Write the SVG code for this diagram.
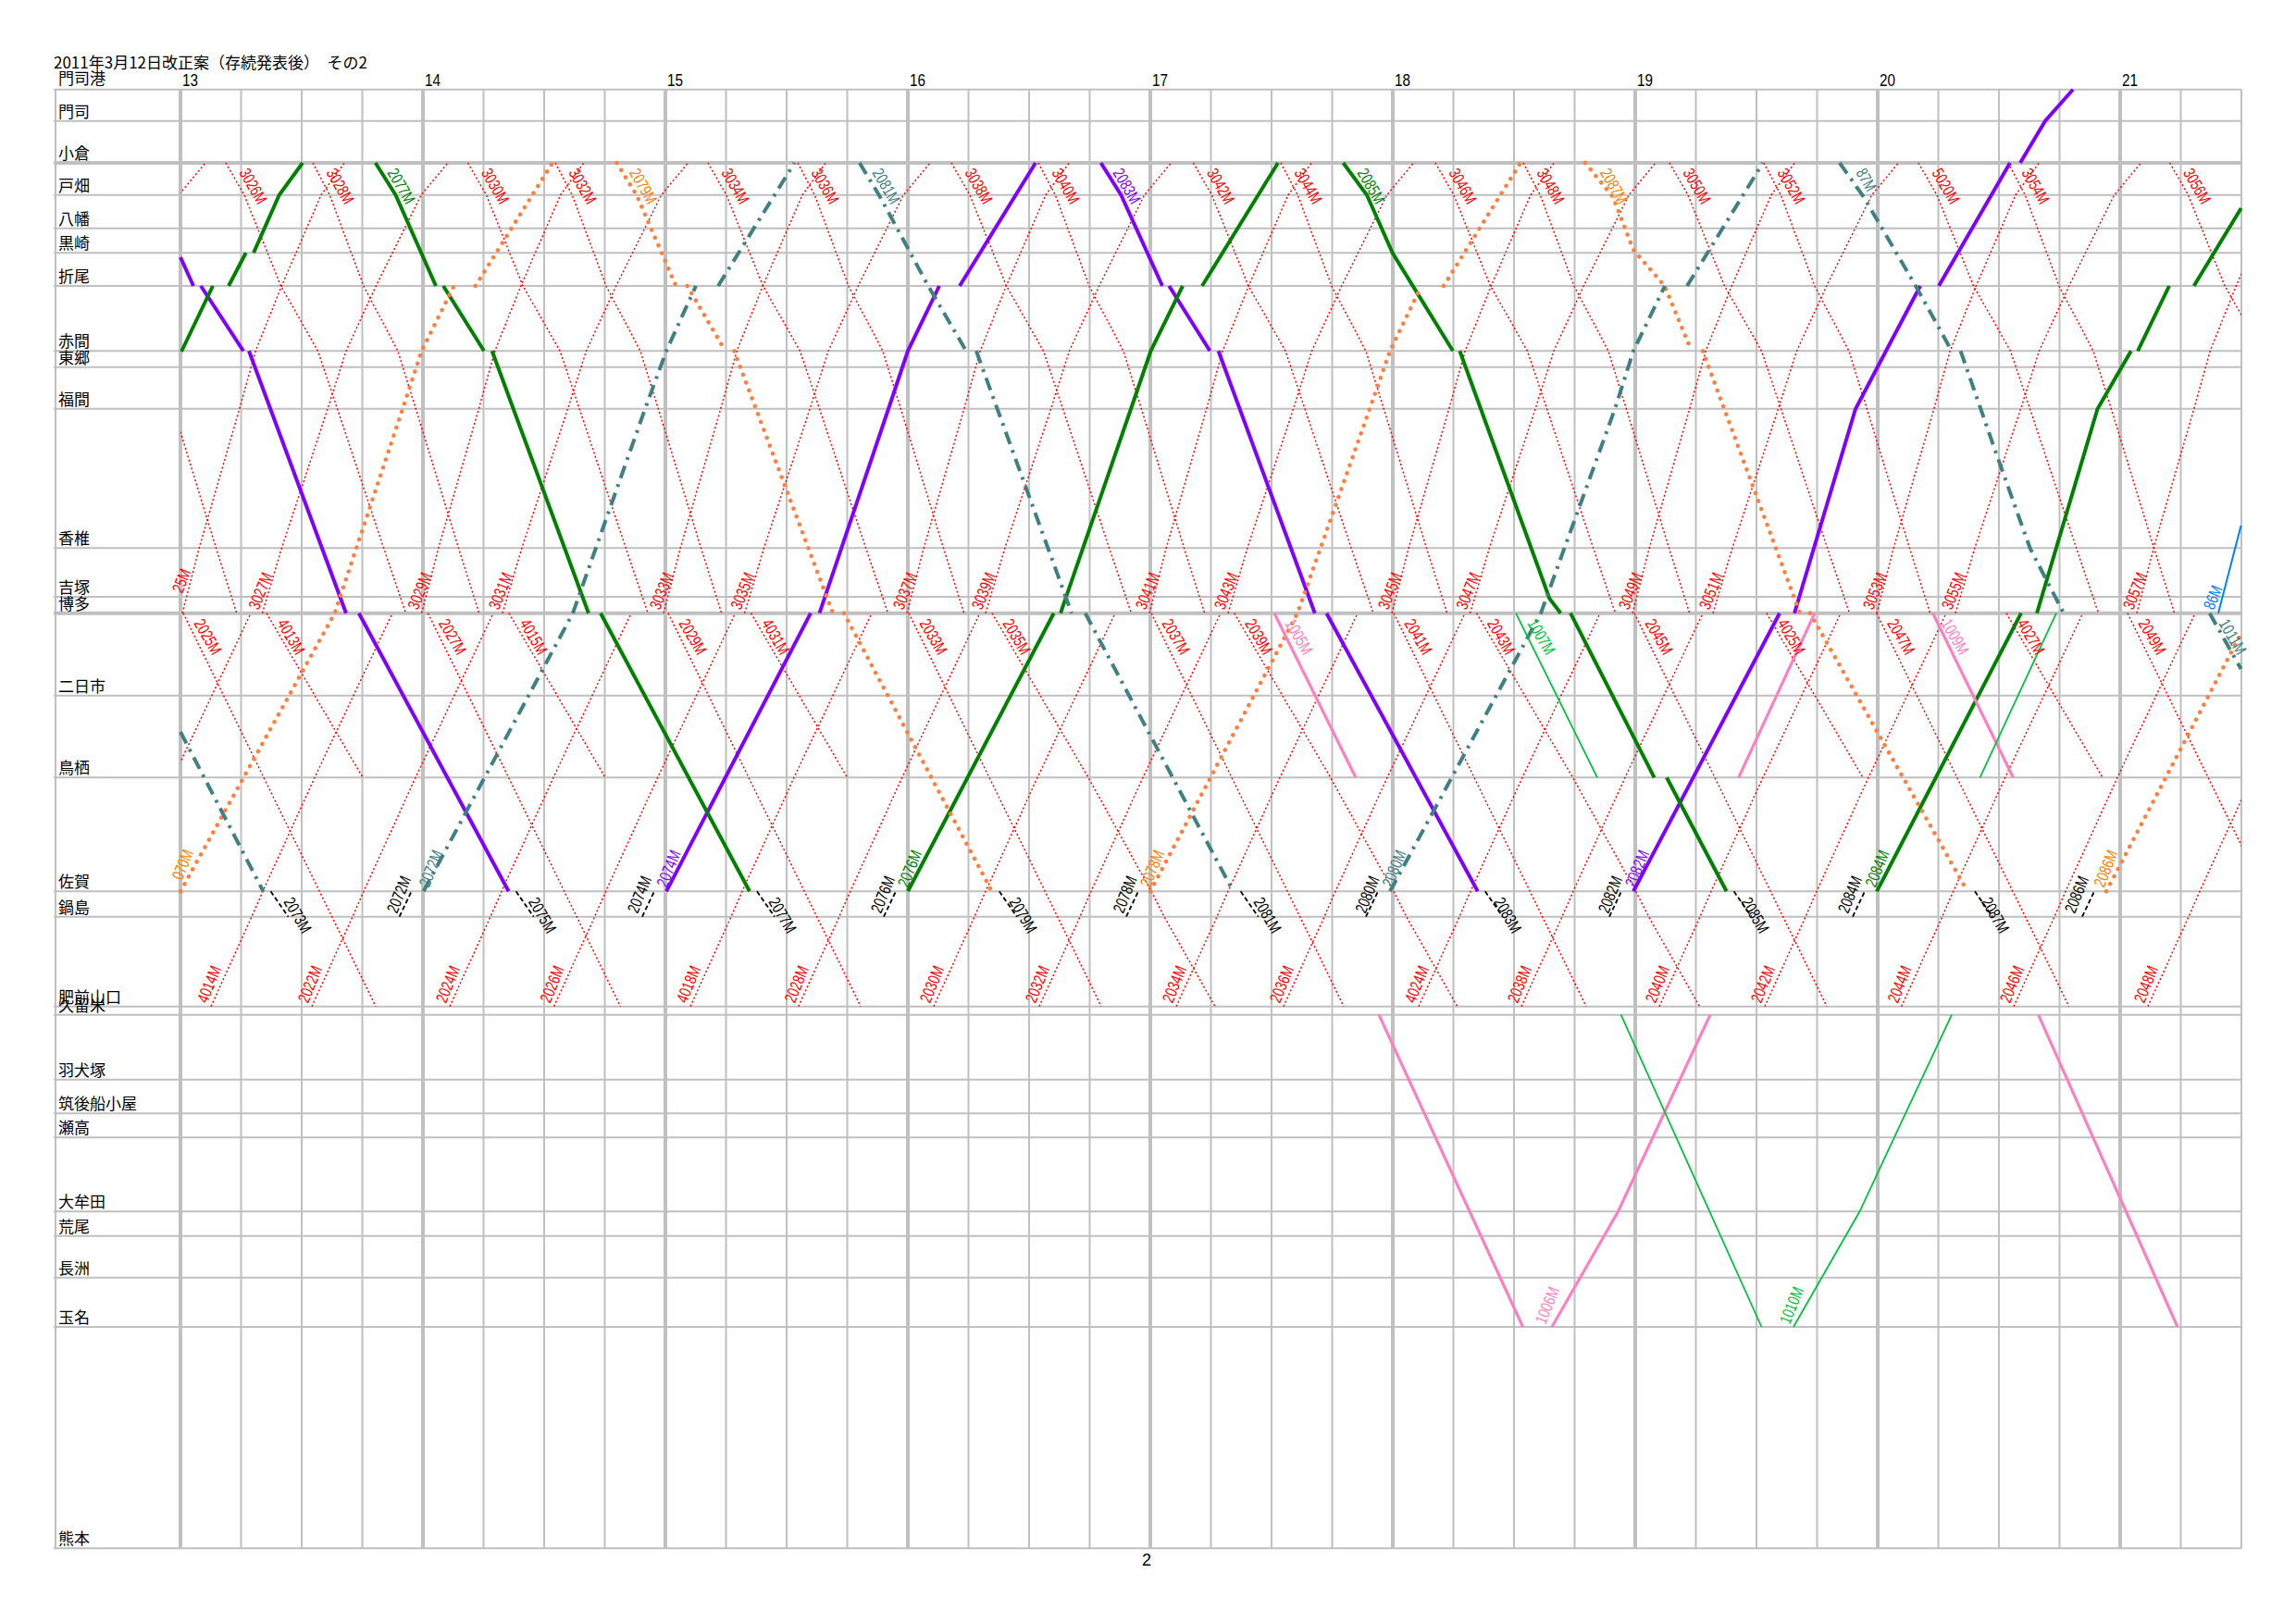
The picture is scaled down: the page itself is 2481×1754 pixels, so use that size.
<svg xmlns="http://www.w3.org/2000/svg" width="2481" height="1754" viewBox="0 0 2481 1754">
<style>
.g{stroke:#c0c0c0;stroke-width:2;fill:none}
.gh{stroke:#c0c0c0;stroke-width:4;fill:none}
.rd{stroke:#ff0000;stroke-width:1.5;stroke-dasharray:2 2.5;fill:none}
.gr{stroke:#008000;stroke-width:4;fill:none}
.pu{stroke:#8000ff;stroke-width:4;fill:none}
.te{stroke:#408080;stroke-width:4;stroke-dasharray:14 7 3 7;fill:none}
.or{stroke:#ff8040;stroke-width:4.5;stroke-dasharray:0.1 9;stroke-linecap:round;fill:none}
.pk{stroke:#ff80c0;stroke-width:3.2;fill:none}
.lg{stroke:#00c040;stroke-width:1.8;fill:none}
.bl{stroke:#0080ff;stroke-width:2;fill:none}
.bk{stroke:#000;stroke-width:1.8;stroke-dasharray:5 3;fill:none}
.st{font-family:'Noto Sans CJK JP','Noto Sans CJK SC',sans-serif;font-size:17px;fill:#000}
.hr{font-family:'Liberation Sans',Arial,sans-serif;font-size:18px;fill:#000}
.t{font-family:'Liberation Sans',Arial,sans-serif;font-size:18px}
.cr{fill:#ff0000}.cg{fill:#008000}.co{fill:#ff8000}.ct{fill:#408080}.cp{fill:#8000ff}.ck{fill:#000}.cpk{fill:#ff80c0}.clg{fill:#00c040}.cb{fill:#0080ff}
</style>
<defs>
<clipPath id="chart"><rect x="195" y="96" width="2227" height="1578"/></clipPath>
</defs>
<rect x="0" y="0" width="2481" height="1754" fill="#fff"/>
<g id="grid">
<path class="g" d="M260.5,96.7V1673.3M326,96.7V1673.3M391.5,96.7V1673.3M522.5,96.7V1673.3M588,96.7V1673.3M653.5,96.7V1673.3M784.5,96.7V1673.3M850,96.7V1673.3M915.5,96.7V1673.3M1046.5,96.7V1673.3M1112,96.7V1673.3M1177.5,96.7V1673.3M1308.5,96.7V1673.3M1374,96.7V1673.3M1439.5,96.7V1673.3M1570.5,96.7V1673.3M1636,96.7V1673.3M1701.5,96.7V1673.3M1832.5,96.7V1673.3M1898,96.7V1673.3M1963.5,96.7V1673.3M2094.5,96.7V1673.3M2160,96.7V1673.3M2225.5,96.7V1673.3M2356.5,96.7V1673.3M2422,96.7V1673.3"/>
<path class="gh" d="M195,96.7V1673.3M457,96.7V1673.3M719,96.7V1673.3M981,96.7V1673.3M1243,96.7V1673.3M1505,96.7V1673.3M1767,96.7V1673.3M2029,96.7V1673.3M2291,96.7V1673.3"/>
<path class="g" stroke-width="3" d="M60,96.7V1673.3"/>
<path class="g" d="M58,96.7H2422M58,130.7H2422M58,210.7H2422M58,246.7H2422M58,273.3H2422M58,309H2422M58,379.3H2422M58,396.7H2422M58,441.7H2422M58,592.3H2422M58,645H2422M58,751.7H2422M58,840.3H2422M58,963.3H2422M58,990.7H2422M58,1087.7H2422M58,1096.7H2422M58,1166.7H2422M58,1203.3H2422M58,1229.3H2422M58,1309.3H2422M58,1335.7H2422M58,1380.7H2422M58,1434H2422M58,1673.3H2422"/>
<path class="gh" d="M58,176H2422M58,662.7H2422"/>
</g>
<g id="title">
<text class="st" x="58" y="74" font-size="17.5">2011年3月12日改正案（存続発表後）　その2</text>
<text class="hr" x="197" y="93" textLength="17" lengthAdjust="spacingAndGlyphs">13</text>
<text class="hr" x="459" y="93" textLength="17" lengthAdjust="spacingAndGlyphs">14</text>
<text class="hr" x="721" y="93" textLength="17" lengthAdjust="spacingAndGlyphs">15</text>
<text class="hr" x="983" y="93" textLength="17" lengthAdjust="spacingAndGlyphs">16</text>
<text class="hr" x="1245" y="93" textLength="17" lengthAdjust="spacingAndGlyphs">17</text>
<text class="hr" x="1507" y="93" textLength="17" lengthAdjust="spacingAndGlyphs">18</text>
<text class="hr" x="1769" y="93" textLength="17" lengthAdjust="spacingAndGlyphs">19</text>
<text class="hr" x="2031" y="93" textLength="17" lengthAdjust="spacingAndGlyphs">20</text>
<text class="hr" x="2293" y="93" textLength="17" lengthAdjust="spacingAndGlyphs">21</text>
<text class="hr" x="1239" y="1692" text-anchor="middle" font-size="16">2</text>
</g>
<g id="stations">
<text class="st" x="63" y="91">門司港</text>
<text class="st" x="63" y="127">門司</text>
<text class="st" x="63" y="172">小倉</text>
<text class="st" x="63" y="207">戸畑</text>
<text class="st" x="63" y="243">八幡</text>
<text class="st" x="63" y="269">黒崎</text>
<text class="st" x="63" y="305">折尾</text>
<text class="st" x="63" y="375">赤間</text>
<text class="st" x="63" y="393">東郷</text>
<text class="st" x="63" y="438">福間</text>
<text class="st" x="63" y="588">香椎</text>
<text class="st" x="63" y="641">吉塚</text>
<text class="st" x="63" y="659">博多</text>
<text class="st" x="63" y="748">二日市</text>
<text class="st" x="63" y="836">鳥栖</text>
<text class="st" x="63" y="959">佐賀</text>
<text class="st" x="63" y="987">鍋島</text>
<text class="st" x="63" y="1084">肥前山口</text>
<text class="st" x="63" y="1093">久留米</text>
<text class="st" x="63" y="1163">羽犬塚</text>
<text class="st" x="63" y="1199">筑後船小屋</text>
<text class="st" x="63" y="1225">瀬高</text>
<text class="st" x="63" y="1305">大牟田</text>
<text class="st" x="63" y="1332">荒尾</text>
<text class="st" x="63" y="1377">長洲</text>
<text class="st" x="63" y="1430">玉名</text>
<text class="st" x="63" y="1669">熊本</text>
</g>
<g id="locals" clip-path="url(#chart)">
<path class="rd" d="M76,176L94.3,210.7L130.9,309L167.9,379.3L187.3,441.7L233.5,592.3L255.7,662.7M244,176L263.9,210.7L303.5,309L343.5,379.3L364.5,441.7L414.6,592.3L438.5,662.7M338,176L356.3,210.7L392.9,309L429.9,379.3L449.3,441.7L495.5,592.3L517.7,662.7M505.6,176L525.5,210.7L565.1,309L605.1,379.3L626.1,441.7L676.2,592.3L700.1,662.7M600,176L618.3,210.7L654.9,309L691.9,379.3L711.3,441.7L757.5,592.3L779.7,662.7M765,176L784.9,210.7L824.5,309L864.5,379.3L885.5,441.7L935.6,592.3L959.5,662.7M862,176L880.3,210.7L916.9,309L953.9,379.3L973.3,441.7L1019.5,592.3L1041.7,662.7M1028,176L1047.9,210.7L1087.5,309L1127.5,379.3L1148.5,441.7L1198.6,592.3L1222.5,662.7M1122,176L1140.3,210.7L1176.9,309L1213.9,379.3L1233.3,441.7L1279.5,592.3L1301.7,662.7M1289.5,176L1309.4,210.7L1349,309L1389,379.3L1410,441.7L1460.1,592.3L1484,662.7M1384,176L1402.3,210.7L1438.9,309L1475.9,379.3L1495.3,441.7L1541.5,592.3L1563.7,662.7M1551,176L1570.9,210.7L1610.5,309L1650.5,379.3L1671.5,441.7L1721.6,592.3L1745.5,662.7M1646,176L1664.3,210.7L1700.9,309L1737.9,379.3L1757.3,441.7L1803.5,592.3L1825.7,662.7M1804,176L1823.9,210.7L1863.5,309L1903.5,379.3L1924.5,441.7L1974.6,592.3L1998.5,662.7M1906,176L1924.3,210.7L1960.9,309L1997.9,379.3L2017.3,441.7L2063.5,592.3L2085.7,662.7M2073,176L2092.9,210.7L2132.5,309L2172.5,379.3L2193.5,441.7L2243.6,592.3L2267.5,662.7M2170,176L2188.3,210.7L2224.9,309L2261.9,379.3L2281.3,441.7L2327.5,592.3L2349.7,662.7M2344.6,176L2364.5,210.7L2404.1,309L2444.1,379.3"/>
<path class="rd" d="M21.5,662.7L42.4,592.3L92.1,441.7L112,379.3L144.3,309L193.1,210.7L222,176M197,662.7L215.2,592.3L258.8,441.7L276.2,379.3L304.3,309L347,210.7L372.3,176M283.5,662.7L304.4,592.3L354.1,441.7L374,379.3L406.3,309L455.1,210.7L484,176M455.6,662.7L473.8,592.3L517.4,441.7L534.8,379.3L562.9,309L605.6,210.7L630.9,176M543,662.7L563.9,592.3L613.6,441.7L633.5,379.3L665.8,309L714.6,210.7L743.5,176M717,662.7L735.2,592.3L778.8,441.7L796.2,379.3L824.3,309L867,210.7L892.3,176M804.6,662.7L825.5,592.3L875.2,441.7L895.1,379.3L927.4,309L976.2,210.7L1005.1,176M980,662.7L998.2,592.3L1041.8,441.7L1059.2,379.3L1087.3,309L1130,210.7L1155.3,176M1065,662.7L1085.9,592.3L1135.6,441.7L1155.5,379.3L1187.8,309L1236.6,210.7L1265.5,176M1242,662.7L1260.2,592.3L1303.8,441.7L1321.2,379.3L1349.3,309L1392,210.7L1417.3,176M1327,662.7L1347.9,592.3L1397.6,441.7L1417.5,379.3L1449.8,309L1498.6,210.7L1527.5,176M1504,662.7L1522.2,592.3L1565.8,441.7L1583.2,379.3L1611.3,309L1654,210.7L1679.3,176M1588.5,662.7L1609.4,592.3L1659.1,441.7L1679,379.3L1711.3,309L1760.1,210.7L1789,176M1764,662.7L1782.2,592.3L1825.8,441.7L1843.2,379.3L1871.3,309L1914,210.7L1939.3,176M1851,662.7L1871.9,592.3L1921.6,441.7L1941.5,379.3L1973.8,309L2022.6,210.7L2051.5,176M2028,662.7L2046.2,592.3L2089.8,441.7L2107.2,379.3L2135.3,309L2178,210.7L2203.3,176M2113,662.7L2133.9,592.3L2183.6,441.7L2203.5,379.3L2235.8,309L2284.6,210.7L2313.5,176M2309,662.7L2327.2,592.3L2370.8,441.7L2388.2,379.3L2416.3,309L2459,210.7"/>
<path class="rd" d="M198,662.7L285,840.3L345.3,963.3L358.7,990.7L406,1087.7M288,662.7L392,840.3M462.5,662.7L549.5,840.3L609.8,963.3L623.2,990.7L670.5,1087.7M550,662.7L654,840.3M722,662.7L809,840.3L869.3,963.3L882.7,990.7L930,1087.7M811.5,662.7L915.5,840.3M982,662.7L1069,840.3L1129.3,963.3L1142.7,990.7L1190,1087.7M1072,662.7L1176,840.3L1244,963.3L1258,990.7L1313,1087.7M1244,662.7L1331,840.3L1391.3,963.3L1404.7,990.7L1452,1087.7M1333.7,662.7L1437.7,840.3L1505.7,963.3L1519.7,990.7L1574.7,1087.7M1506,662.7L1593,840.3L1653.3,963.3L1666.7,990.7L1714,1087.7M1595.5,662.7L1699.5,840.3L1767.5,963.3L1781.5,990.7L1836.5,1087.7M1766,662.7L1853,840.3L1913.3,963.3L1926.7,990.7L1974,1087.7M1909,662.7L2013,840.3M2027.7,662.7L2114.7,840.3L2175,963.3L2188.4,990.7L2235.7,1087.7M2168,662.7L2272,840.3M2299,662.7L2386,840.3L2446.3,963.3"/>
<path class="rd" d="M75,1087.7L119,990.7L131,963.3L187,840.3L271,662.7M228,1087.7L272,990.7L284,963.3L340,840.3L424,662.7M337,1087.7L381,990.7L393,963.3L449,840.3L533,662.7M486,1087.7L530,990.7L542,963.3L598,840.3L682,662.7M598.6,1087.7L642.6,990.7L654.6,963.3L710.6,840.3L794.6,662.7M746,1087.7L790,990.7L802,963.3L858,840.3L942,662.7M862.8,1087.7L906.8,990.7L918.8,963.3L974.8,840.3L1058.8,662.7M1009,1087.7L1053,990.7L1065,963.3L1121,840.3L1205,662.7M1123,1087.7L1167,990.7L1179,963.3L1235,840.3L1319,662.7M1271,1087.7L1315,990.7L1327,963.3L1383,840.3L1467,662.7M1387,1087.7L1431,990.7L1443,963.3L1499,840.3L1583,662.7M1533,1087.7L1577,990.7L1589,963.3L1645,840.3L1729,662.7M1644,1087.7L1688,990.7L1700,963.3L1756,840.3L1840,662.7M1793,1087.7L1837,990.7L1849,963.3L1905,840.3L1989,662.7M1907,1087.7L1951,990.7L1963,963.3L2019,840.3L2103,662.7M2054.7,1087.7L2098.7,990.7L2110.7,963.3L2166.7,840.3L2250.7,662.7M2176,1087.7L2220,990.7L2232,963.3L2288,840.3L2372,662.7M2321,1087.7L2365,990.7L2377,963.3L2433,840.3"/>
</g>
<g id="connectors">
<path class="pu" d="M195,278L209,309M217,309L263,379.3M269,379.3L374,662.7M387.8,662.7L549.6,963.3"/>
<path class="pu" d="M720,963.3L876,662.7M885.5,662.7L960,442L981,379.3L1015,309M1037,309L1119,176"/>
<path class="pu" d="M1189.6,176L1211.4,210.7L1256,309M1263.3,309L1307.4,379.3M1316.6,379.3L1420.8,662.7M1433.4,662.7L1596.8,963.3"/>
<path class="pu" d="M1765,963.3L1923,662.7M1939,662.7L2005,442L2038,379.3L2075,309M2095,309L2172,176M2183,176L2210,130.7L2240,96.7"/>
<path class="gr" d="M196,380L230,309M247,309L265.7,273.3M274,273.3L301.7,210.7L327,176"/>
<path class="gr" d="M405.7,176L427.5,210.7L471,309M479,309L523,379.3M531.7,379.3L636,662.7M649,662.7L810,963.3"/>
<path class="gr" d="M981,963.3L1138.7,662.7M1146,662.7L1222,442L1243.5,379.3L1278,309M1299,309L1381,176"/>
<path class="gr" d="M1451.4,176L1477,210.7L1504.7,273.3L1570,379.3M1577.4,379.3L1674.3,646.7L1686.4,662.7M1697,662.7L1787.6,840.3M1801,840.3L1865.6,963.3"/>
<path class="gr" d="M2028,963.3L2184,662.7M2201,662.7L2266.5,442L2302.8,379.3M2310,379.3L2344,309M2370.7,309L2421.7,225"/>
<path class="or" d="M195,963.3L361.7,662.7L435,442L455.6,379.3L490.5,309M513.8,309L597,176"/>
<path class="or" d="M666.5,176L688,211L730.4,309M742.6,309L783.8,379.3M793.4,379.3L900,662.7M912,662.7L1071.8,963.3"/>
<path class="or" d="M1243,963.3L1402,662.7L1480,442L1502,379.3L1536,309M1560,309L1643,176"/>
<path class="or" d="M1713,176L1743,213L1765,270L1798.7,309L1827.8,379.3M1840,379.3L1945,662.7M1956,662.7L2126,963.3"/>
<path class="or" d="M2276,963.3L2422,684"/>
<path class="te" d="M195,791L284.5,963.3"/>
<path class="te" d="M457.6,963.3L619,662.7L697,442L720,379.3L752,309M776,309L858.5,176"/>
<path class="te" d="M928.8,176L950,211L1003,309L1044,379.3M1054.9,379.3L1158,662.7M1172.7,662.7L1332.6,963.3"/>
<path class="te" d="M1502,963.3L1665,662.7L1745,442L1765,379.3L1799,309M1823,309L1905,176"/>
<path class="te" d="M1987.8,176L2014,213L2070,309L2109,379.3M2118.6,379.3L2157,490L2193.8,593L2230,662.7"/>
<path class="te" d="M2387.7,662.7L2421.6,723"/>
<path class="bk" d="M431.6,990.7L444.6,963.3M694,990.7L707,963.3M955,990.7L968,963.3M1217,990.7L1230,963.3M1476,990.7L1489,963.3M1739,990.7L1752,963.3M2002,990.7L2015,963.3M2250,990.7L2263,963.3"/>
<path class="bk" d="M292.5,963.3L311.5,990.7M557.6,963.3L576.6,990.7M818,963.3L837,990.7M1079.8,963.3L1098.8,990.7M1340.6,963.3L1359.6,990.7M1604.8,963.3L1623.8,990.7M1873.6,963.3L1892.6,990.7M2134,963.3L2153,990.7"/>
<path class="pk" d="M1377,662.7L1465,840.3M1490,1096.7L1645.6,1434M1677,1434L1748.5,1309.3L1848,1096.7M1878.7,840.3L1961,662.7M2088.6,662.7L2175.4,840.3M2202.6,1096.7L2353,1434"/>
<path class="lg" d="M1638,662.7L1726,840.3M1751.6,1096.7L1903.5,1434M1938,1434L2009.5,1309.3L2109,1096.7M2139.5,840.3L2222,662.7"/>
<path class="bl" d="M2397,662.7L2421.6,568"/>
</g>
<g id="labels">
<text class="t cr" transform="translate(258,186.5) rotate(60)" textLength="41" lengthAdjust="spacingAndGlyphs">3026M</text>
<text class="t cr" transform="translate(352,186.5) rotate(60)" textLength="41" lengthAdjust="spacingAndGlyphs">3028M</text>
<text class="t cg" transform="translate(418,186.5) rotate(60)" textLength="41" lengthAdjust="spacingAndGlyphs">2077M</text>
<text class="t cr" transform="translate(519.6,186.5) rotate(60)" textLength="41" lengthAdjust="spacingAndGlyphs">3030M</text>
<text class="t cr" transform="translate(614,186.5) rotate(60)" textLength="41" lengthAdjust="spacingAndGlyphs">3032M</text>
<text class="t co" transform="translate(679.5,186.5) rotate(60)" textLength="41" lengthAdjust="spacingAndGlyphs">2079M</text>
<text class="t cr" transform="translate(779,186.5) rotate(60)" textLength="41" lengthAdjust="spacingAndGlyphs">3034M</text>
<text class="t cr" transform="translate(876,186.5) rotate(60)" textLength="41" lengthAdjust="spacingAndGlyphs">3036M</text>
<text class="t ct" transform="translate(942,186.5) rotate(60)" textLength="41" lengthAdjust="spacingAndGlyphs">2081M</text>
<text class="t cr" transform="translate(1042,186.5) rotate(60)" textLength="41" lengthAdjust="spacingAndGlyphs">3038M</text>
<text class="t cr" transform="translate(1136,186.5) rotate(60)" textLength="41" lengthAdjust="spacingAndGlyphs">3040M</text>
<text class="t cp" transform="translate(1202,186.5) rotate(60)" textLength="41" lengthAdjust="spacingAndGlyphs">2083M</text>
<text class="t cr" transform="translate(1303.5,186.5) rotate(60)" textLength="41" lengthAdjust="spacingAndGlyphs">3042M</text>
<text class="t cr" transform="translate(1398,186.5) rotate(60)" textLength="41" lengthAdjust="spacingAndGlyphs">3044M</text>
<text class="t cg" transform="translate(1466,186.5) rotate(60)" textLength="41" lengthAdjust="spacingAndGlyphs">2085M</text>
<text class="t cr" transform="translate(1565,186.5) rotate(60)" textLength="41" lengthAdjust="spacingAndGlyphs">3046M</text>
<text class="t cr" transform="translate(1660,186.5) rotate(60)" textLength="41" lengthAdjust="spacingAndGlyphs">3048M</text>
<text class="t co" transform="translate(1728.5,186.5) rotate(60)" textLength="41" lengthAdjust="spacingAndGlyphs">2087M</text>
<text class="t cr" transform="translate(1818,186.5) rotate(60)" textLength="41" lengthAdjust="spacingAndGlyphs">3050M</text>
<text class="t cr" transform="translate(1920,186.5) rotate(60)" textLength="41" lengthAdjust="spacingAndGlyphs">3052M</text>
<text class="t ct" transform="translate(2005,186.5) rotate(60)" textLength="25" lengthAdjust="spacingAndGlyphs">87M</text>
<text class="t cr" transform="translate(2087,186.5) rotate(60)" textLength="41" lengthAdjust="spacingAndGlyphs">5020M</text>
<text class="t cr" transform="translate(2184,186.5) rotate(60)" textLength="41" lengthAdjust="spacingAndGlyphs">3054M</text>
<text class="t cr" transform="translate(2358.6,186.5) rotate(60)" textLength="41" lengthAdjust="spacingAndGlyphs">3056M</text>
<text class="t cr" transform="translate(197,642) rotate(-68)" textLength="26" lengthAdjust="spacingAndGlyphs">25M</text>
<text class="t cr" transform="translate(279.5,660) rotate(-68)" textLength="41" lengthAdjust="spacingAndGlyphs">3027M</text>
<text class="t cr" transform="translate(451.6,660) rotate(-68)" textLength="41" lengthAdjust="spacingAndGlyphs">3029M</text>
<text class="t cr" transform="translate(539,660) rotate(-68)" textLength="41" lengthAdjust="spacingAndGlyphs">3031M</text>
<text class="t cr" transform="translate(713,660) rotate(-68)" textLength="41" lengthAdjust="spacingAndGlyphs">3033M</text>
<text class="t cr" transform="translate(800.6,660) rotate(-68)" textLength="41" lengthAdjust="spacingAndGlyphs">3035M</text>
<text class="t cr" transform="translate(976,660) rotate(-68)" textLength="41" lengthAdjust="spacingAndGlyphs">3037M</text>
<text class="t cr" transform="translate(1061,660) rotate(-68)" textLength="41" lengthAdjust="spacingAndGlyphs">3039M</text>
<text class="t cr" transform="translate(1238,660) rotate(-68)" textLength="41" lengthAdjust="spacingAndGlyphs">3041M</text>
<text class="t cr" transform="translate(1323,660) rotate(-68)" textLength="41" lengthAdjust="spacingAndGlyphs">3043M</text>
<text class="t cr" transform="translate(1500,660) rotate(-68)" textLength="41" lengthAdjust="spacingAndGlyphs">3045M</text>
<text class="t cr" transform="translate(1584.5,660) rotate(-68)" textLength="41" lengthAdjust="spacingAndGlyphs">3047M</text>
<text class="t cr" transform="translate(1760,660) rotate(-68)" textLength="41" lengthAdjust="spacingAndGlyphs">3049M</text>
<text class="t cr" transform="translate(1847,660) rotate(-68)" textLength="41" lengthAdjust="spacingAndGlyphs">3051M</text>
<text class="t cr" transform="translate(2024,660) rotate(-68)" textLength="41" lengthAdjust="spacingAndGlyphs">3053M</text>
<text class="t cr" transform="translate(2109,660) rotate(-68)" textLength="41" lengthAdjust="spacingAndGlyphs">3055M</text>
<text class="t cr" transform="translate(2305,660) rotate(-68)" textLength="41" lengthAdjust="spacingAndGlyphs">3057M</text>
<text class="t cb" transform="translate(2392,660) rotate(-68)" textLength="26" lengthAdjust="spacingAndGlyphs">86M</text>
<text class="t cr" transform="translate(209,673.5) rotate(60)" textLength="41" lengthAdjust="spacingAndGlyphs">2025M</text>
<text class="t cr" transform="translate(299,673.5) rotate(60)" textLength="41" lengthAdjust="spacingAndGlyphs">4013M</text>
<text class="t cr" transform="translate(473.5,673.5) rotate(60)" textLength="41" lengthAdjust="spacingAndGlyphs">2027M</text>
<text class="t cr" transform="translate(561,673.5) rotate(60)" textLength="41" lengthAdjust="spacingAndGlyphs">4015M</text>
<text class="t cr" transform="translate(733,673.5) rotate(60)" textLength="41" lengthAdjust="spacingAndGlyphs">2029M</text>
<text class="t cr" transform="translate(822.5,673.5) rotate(60)" textLength="41" lengthAdjust="spacingAndGlyphs">4031M</text>
<text class="t cr" transform="translate(993,673.5) rotate(60)" textLength="41" lengthAdjust="spacingAndGlyphs">2033M</text>
<text class="t cr" transform="translate(1083,673.5) rotate(60)" textLength="41" lengthAdjust="spacingAndGlyphs">2035M</text>
<text class="t cr" transform="translate(1255,673.5) rotate(60)" textLength="41" lengthAdjust="spacingAndGlyphs">2037M</text>
<text class="t cr" transform="translate(1344.7,673.5) rotate(60)" textLength="41" lengthAdjust="spacingAndGlyphs">2039M</text>
<text class="t cpk" transform="translate(1388,673.5) rotate(60)" textLength="41" lengthAdjust="spacingAndGlyphs">1005M</text>
<text class="t cr" transform="translate(1517,673.5) rotate(60)" textLength="41" lengthAdjust="spacingAndGlyphs">2041M</text>
<text class="t cr" transform="translate(1606.5,673.5) rotate(60)" textLength="41" lengthAdjust="spacingAndGlyphs">2043M</text>
<text class="t clg" transform="translate(1650,673.5) rotate(60)" textLength="41" lengthAdjust="spacingAndGlyphs">1007M</text>
<text class="t cr" transform="translate(1777,673.5) rotate(60)" textLength="41" lengthAdjust="spacingAndGlyphs">2045M</text>
<text class="t cr" transform="translate(1920,673.5) rotate(60)" textLength="41" lengthAdjust="spacingAndGlyphs">4025M</text>
<text class="t cr" transform="translate(2038.7,673.5) rotate(60)" textLength="41" lengthAdjust="spacingAndGlyphs">2047M</text>
<text class="t cpk" transform="translate(2097,673.5) rotate(60)" textLength="41" lengthAdjust="spacingAndGlyphs">1009M</text>
<text class="t cr" transform="translate(2179,673.5) rotate(60)" textLength="41" lengthAdjust="spacingAndGlyphs">4027M</text>
<text class="t cr" transform="translate(2310,673.5) rotate(60)" textLength="41" lengthAdjust="spacingAndGlyphs">2049M</text>
<text class="t ct" transform="translate(2397,673.5) rotate(60)" textLength="41" lengthAdjust="spacingAndGlyphs">1011M</text>
<text class="t co" transform="translate(197,952) rotate(-68)" textLength="33" lengthAdjust="spacingAndGlyphs">070M</text>
<text class="t ct" transform="translate(463.7,960) rotate(-68)" textLength="41" lengthAdjust="spacingAndGlyphs">2072M</text>
<text class="t cp" transform="translate(720.6,960) rotate(-68)" textLength="41" lengthAdjust="spacingAndGlyphs">2074M</text>
<text class="t cg" transform="translate(981,960) rotate(-68)" textLength="41" lengthAdjust="spacingAndGlyphs">2076M</text>
<text class="t co" transform="translate(1243,960) rotate(-68)" textLength="41" lengthAdjust="spacingAndGlyphs">2078M</text>
<text class="t ct" transform="translate(1504.5,960) rotate(-68)" textLength="41" lengthAdjust="spacingAndGlyphs">2080M</text>
<text class="t cp" transform="translate(1767,960) rotate(-68)" textLength="41" lengthAdjust="spacingAndGlyphs">2082M</text>
<text class="t cg" transform="translate(2026.5,960) rotate(-68)" textLength="41" lengthAdjust="spacingAndGlyphs">2084M</text>
<text class="t co" transform="translate(2273.6,960) rotate(-68)" textLength="41" lengthAdjust="spacingAndGlyphs">2086M</text>
<text class="t ck" transform="translate(429,988) rotate(-68)" textLength="41" lengthAdjust="spacingAndGlyphs">2072M</text>
<text class="t ck" transform="translate(689,988) rotate(-68)" textLength="41" lengthAdjust="spacingAndGlyphs">2074M</text>
<text class="t ck" transform="translate(952,988) rotate(-68)" textLength="41" lengthAdjust="spacingAndGlyphs">2076M</text>
<text class="t ck" transform="translate(1213.7,988) rotate(-68)" textLength="41" lengthAdjust="spacingAndGlyphs">2078M</text>
<text class="t ck" transform="translate(1475.5,988) rotate(-68)" textLength="41" lengthAdjust="spacingAndGlyphs">2080M</text>
<text class="t ck" transform="translate(1738,988) rotate(-68)" textLength="41" lengthAdjust="spacingAndGlyphs">2082M</text>
<text class="t ck" transform="translate(1997,988) rotate(-68)" textLength="41" lengthAdjust="spacingAndGlyphs">2084M</text>
<text class="t ck" transform="translate(2242,988) rotate(-68)" textLength="41" lengthAdjust="spacingAndGlyphs">2086M</text>
<text class="t ck" transform="translate(306,974.5) rotate(60)" textLength="41" lengthAdjust="spacingAndGlyphs">2073M</text>
<text class="t ck" transform="translate(570.5,974.5) rotate(60)" textLength="41" lengthAdjust="spacingAndGlyphs">2075M</text>
<text class="t ck" transform="translate(830,974.5) rotate(60)" textLength="41" lengthAdjust="spacingAndGlyphs">2077M</text>
<text class="t ck" transform="translate(1090,974.5) rotate(60)" textLength="41" lengthAdjust="spacingAndGlyphs">2079M</text>
<text class="t ck" transform="translate(1354,974.5) rotate(60)" textLength="41" lengthAdjust="spacingAndGlyphs">2081M</text>
<text class="t ck" transform="translate(1613.7,974.5) rotate(60)" textLength="41" lengthAdjust="spacingAndGlyphs">2083M</text>
<text class="t ck" transform="translate(1881,974.5) rotate(60)" textLength="41" lengthAdjust="spacingAndGlyphs">2085M</text>
<text class="t ck" transform="translate(2140.5,974.5) rotate(60)" textLength="41" lengthAdjust="spacingAndGlyphs">2087M</text>
<text class="t cr" transform="translate(224,1085) rotate(-68)" textLength="41" lengthAdjust="spacingAndGlyphs">4014M</text>
<text class="t cr" transform="translate(333,1085) rotate(-68)" textLength="41" lengthAdjust="spacingAndGlyphs">2022M</text>
<text class="t cr" transform="translate(482,1085) rotate(-68)" textLength="41" lengthAdjust="spacingAndGlyphs">2024M</text>
<text class="t cr" transform="translate(594.6,1085) rotate(-68)" textLength="41" lengthAdjust="spacingAndGlyphs">2026M</text>
<text class="t cr" transform="translate(742,1085) rotate(-68)" textLength="41" lengthAdjust="spacingAndGlyphs">4018M</text>
<text class="t cr" transform="translate(858.8,1085) rotate(-68)" textLength="41" lengthAdjust="spacingAndGlyphs">2028M</text>
<text class="t cr" transform="translate(1005,1085) rotate(-68)" textLength="41" lengthAdjust="spacingAndGlyphs">2030M</text>
<text class="t cr" transform="translate(1119,1085) rotate(-68)" textLength="41" lengthAdjust="spacingAndGlyphs">2032M</text>
<text class="t cr" transform="translate(1267,1085) rotate(-68)" textLength="41" lengthAdjust="spacingAndGlyphs">2034M</text>
<text class="t cr" transform="translate(1383,1085) rotate(-68)" textLength="41" lengthAdjust="spacingAndGlyphs">2036M</text>
<text class="t cr" transform="translate(1529,1085) rotate(-68)" textLength="41" lengthAdjust="spacingAndGlyphs">4024M</text>
<text class="t cr" transform="translate(1640,1085) rotate(-68)" textLength="41" lengthAdjust="spacingAndGlyphs">2038M</text>
<text class="t cr" transform="translate(1789,1085) rotate(-68)" textLength="41" lengthAdjust="spacingAndGlyphs">2040M</text>
<text class="t cr" transform="translate(1903,1085) rotate(-68)" textLength="41" lengthAdjust="spacingAndGlyphs">2042M</text>
<text class="t cr" transform="translate(2050.7,1085) rotate(-68)" textLength="41" lengthAdjust="spacingAndGlyphs">2044M</text>
<text class="t cr" transform="translate(2172,1085) rotate(-68)" textLength="41" lengthAdjust="spacingAndGlyphs">2046M</text>
<text class="t cr" transform="translate(2317,1085) rotate(-68)" textLength="41" lengthAdjust="spacingAndGlyphs">2048M</text>
<text class="t cpk" transform="translate(1670,1432) rotate(-68)" textLength="41" lengthAdjust="spacingAndGlyphs">1006M</text>
<text class="t clg" transform="translate(1934,1432) rotate(-68)" textLength="41" lengthAdjust="spacingAndGlyphs">1010M</text>
</g>
</svg>
